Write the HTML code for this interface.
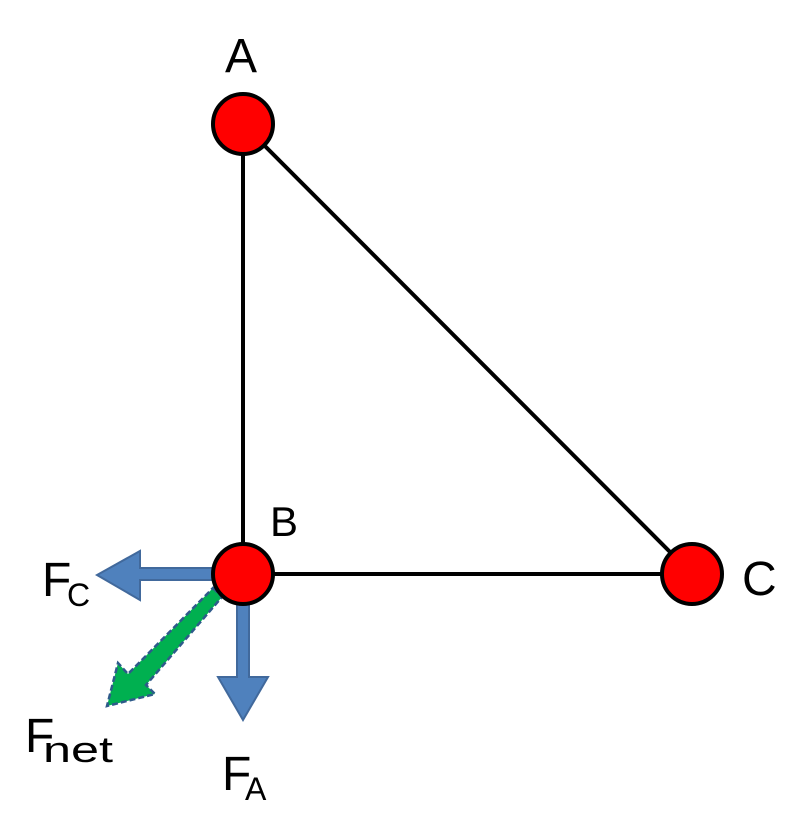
<!DOCTYPE html>
<html><head><meta charset="utf-8"><style>
html,body{margin:0;padding:0;background:#fff;}
svg{display:block;}
text{font-family:"Liberation Sans",sans-serif;fill:#000;}
</style></head><body>
<svg width="809" height="839" viewBox="0 0 809 839" xmlns="http://www.w3.org/2000/svg">
<line x1="243" y1="124" x2="243" y2="574" stroke="#000" stroke-width="4"/>
<line x1="243" y1="124" x2="692" y2="574" stroke="#000" stroke-width="4"/>
<line x1="243" y1="574" x2="692" y2="574" stroke="#000" stroke-width="4"/>
<polygon points="215,568 140,568 140,551 97,575 140,600 140,580 215,580" fill="#4f81bd" stroke="#41699c" stroke-width="2"/>
<polygon points="237,600 237,677 218,677 243,720 268,677 249,677 249,600" fill="#4f81bd" stroke="#41699c" stroke-width="2"/>
<polygon points="213,588 222,597 146,685 155,694 107,706 118,663 128,674" fill="#00b050" stroke="#2e5a8a" stroke-width="2.5" stroke-dasharray="6,3"/>
<circle cx="243" cy="124" r="30" fill="#ff0000" stroke="#000" stroke-width="4"/>
<circle cx="243" cy="574" r="30" fill="#ff0000" stroke="#000" stroke-width="4"/>
<circle cx="692" cy="574" r="30" fill="#ff0000" stroke="#000" stroke-width="4"/>
<text x="225" y="72" font-size="48">A</text>
<text x="270" y="536" font-size="42">B</text>
<text x="742" y="595" font-size="48">C</text>
<text x="42" y="596" font-size="48">F</text>
<text x="67" y="606" font-size="32">C</text>
<text x="25" y="752" font-size="48">F</text>
<text x="43" y="762" font-size="36" textLength="70" lengthAdjust="spacingAndGlyphs">net</text>
<text x="222" y="790" font-size="48">F</text>
<text x="245" y="800" font-size="32">A</text>
</svg>
</body></html>
